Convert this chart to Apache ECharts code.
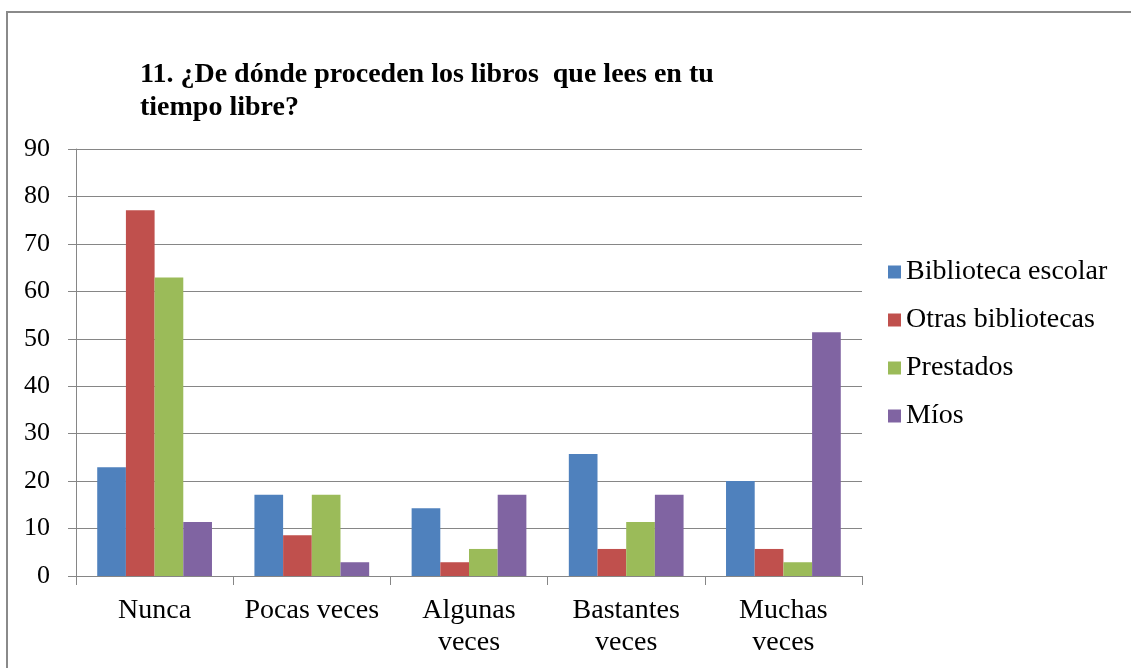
<!DOCTYPE html>
<html>
<head>
<meta charset="utf-8">
<script src="https://cdn.jsdelivr.net/npm/echarts@6/dist/echarts.min.js"></script>
<style>
html,body{margin:0;padding:0;background:#fff;}
#chart{width:1131px;height:668px;}
</style>
</head>
<body>
<div id="chart"></div>
<script>
var categories = ["Nunca", "Pocas veces", "Algunas\nveces", "Bastantes\nveces", "Muchas\nveces"];
var escolar = [22.9, 17.1, 14.3, 25.7, 20.0];
var otras = [77.1, 8.6, 2.9, 5.7, 5.7];
var prestados = [62.9, 17.1, 5.7, 11.4, 2.9];
var mios = [11.4, 2.9, 17.1, 17.1, 51.4];
var yTicks = [0, 10, 20, 30, 40, 50, 60, 70, 80, 90];

var myChart = echarts.init(document.getElementById("chart"));
var serif = "Liberation Serif";

var option = {
	animation: false,
	color: ["#4F81BD", "#C0504D", "#9BBB59", "#8064A2"],
	title: {
		text: "11. ¿De dónde proceden los libros  que lees en tu\ntiempo libre?",
		left: 135,
		top: 53,
		textStyle: {
			fontFamily: serif,
			fontWeight: "bold",
			fontSize: 28,
			lineHeight: 33,
			color: "#000"
		}
	},
	graphic: [{
		type: "rect",
		shape: {x: 7, y: 12, width: 1200, height: 700},
		style: {fill: "none", stroke: "#8a8a8a", lineWidth: 2}
	}],
	legend: {
		orient: "vertical",
		left: 883,
		top: 253,
		itemWidth: 13,
		itemHeight: 13,
		itemGap: 20,
		icon: "rect",
		textStyle: {fontFamily: serif, fontSize: 28, color: "#000", padding: [0, 0, 0, 0]},
		data: ["Biblioteca escolar", "Otras bibliotecas", "Prestados", "Míos"]
	},
	grid: {
		left: 76,
		right: 269,
		top: 149,
		bottom: 92,
		containLabel: false
	},
	xAxis: {
		type: "category",
		data: categories,
		axisLine: {lineStyle: {color: "#868686"}},
		axisTick: {show: true, length: 9, lineStyle: {color: "#868686"}},
		axisLabel: {
			interval: 0,
			margin: 19,
			fontFamily: serif,
			fontSize: 28,
			lineHeight: 32,
			color: "#000"
		}
	},
	yAxis: {
		type: "value",
		min: yTicks[0],
		max: yTicks[yTicks.length - 1],
		interval: 10,
		axisLine: {show: true, lineStyle: {color: "#868686"}},
		axisTick: {show: true, length: 8, lineStyle: {color: "#868686"}},
		splitLine: {lineStyle: {color: "#868686", width: 1}},
		axisLabel: {
			margin: 26,
			fontFamily: serif,
			fontSize: 26,
			color: "#000"
		}
	},
	series: [
		{name: "Biblioteca escolar", type: "bar", data: escolar, barGap: "0%", barCategoryGap: "27%"},
		{name: "Otras bibliotecas", type: "bar", data: otras, barGap: "0%", barCategoryGap: "27%"},
		{name: "Prestados", type: "bar", data: prestados, barGap: "0%", barCategoryGap: "27%"},
		{name: "Míos", type: "bar", data: mios, barGap: "0%", barCategoryGap: "27%"}
	]
};

myChart.setOption(option);
</script>
</body>
</html>
